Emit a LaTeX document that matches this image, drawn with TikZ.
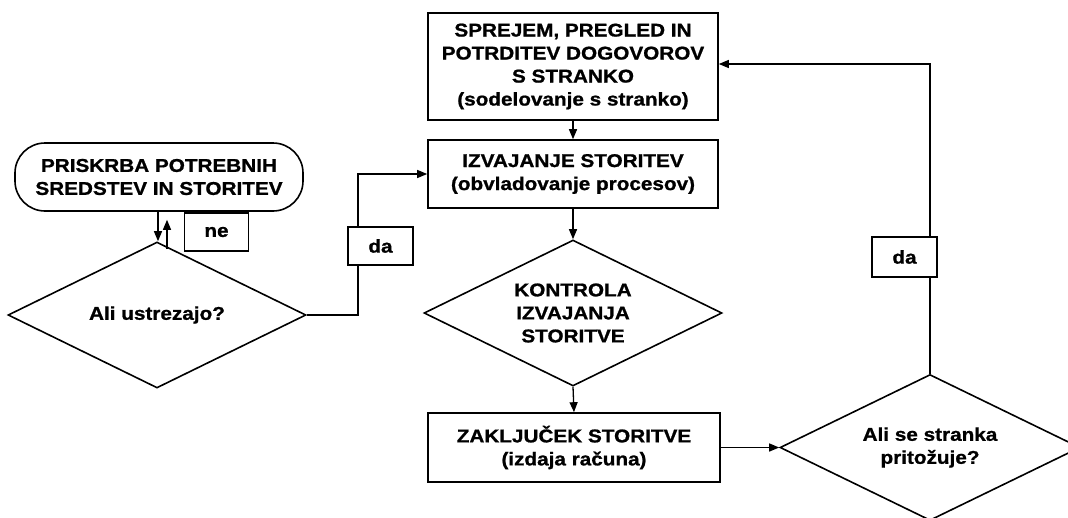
\documentclass[tikz,border=0pt]{standalone}
\usepackage{fontspec}
\setmainfont{Liberation Sans}[FakeStretch=1.12]
\newfontfamily\heavyfont{Liberation Sans}[FakeStretch=1.12, FakeBold=1.0]
\usetikzlibrary{shapes.geometric,arrows.meta,calc}
\begin{document}
\begin{tikzpicture}[x=1pt,y=-1pt,
  every node/.style={font=\fontsize{18.5}{23}\selectfont\heavyfont\bfseries, align=center, inner sep=0pt},
  procbox/.style={draw, line width=1.6pt, fill=white, minimum width=#1},
  decision/.style={draw, line width=1.6pt, diamond, minimum width=298pt, minimum height=146pt, fill=white},
  dtext/.style={},
  lblbox/.style={draw, line width=1.6pt, fill=white, minimum width=64pt, minimum height=38pt},
  conn/.style={line width=1.3pt},
  arr/.style={conn, -{Triangle[length=10pt,width=8pt]}}]
\useasboundingbox (0,0) rectangle (1068,517);
\clip (0,0) rectangle (1068,517);
\fill[white] (0,0) rectangle (1068,517);

% nodes
\node[procbox=290pt, minimum height=107pt] (spr) at (573,66.5) {SPREJEM, PREGLED IN\\POTRDITEV DOGOVOROV\\S STRANKO\\(sodelovanje s stranko)};
\node[procbox=290pt, minimum height=68pt] (izv) at (573,174) {IZVAJANJE STORITEV\\(obvladovanje procesov)};
\node[draw, line width=1.6pt, fill=white, rounded corners=30pt, minimum width=288pt, minimum height=68pt] (pri) at (159,177) {PRISKRBA POTREBNIH\\SREDSTEV IN STORITEV};
\node[decision] (d1) at (157,315) {};
\node[dtext] (t1) at (d1) {Ali ustrezajo?};
\node[decision] (d2) at (573,313) {};
\node[dtext] (t2) at (d2) {KONTROLA\\IZVAJANJA\\STORITVE};
\node[procbox=292pt, minimum height=69pt] (zak) at (574,447.5) {ZAKLJUČEK STORITVE\\(izdaja računa)};
\node[decision, minimum width=300pt] (d3) at (930,447.5) {};
\node[dtext] (t3) at (d3) {Ali se stranka\\pritožuje?};

% connectors
\draw[arr] (spr.south) -- (izv.north);
\draw[arr] (izv.south) -- (d2.north);
\draw[arr] (d2.south) -- (zak.north);
\draw[arr] (zak.east) -- (d3.west);
\draw[arr] ([xshift=-1pt]pri.south) -- ([xshift=-1pt]pri.south |- d1.north);
\draw[arr] ([xshift=10pt,yshift=-8pt]d1.north) -- ([xshift=10pt,yshift=-8pt]d1.north |- pri.south);
\coordinate (k1) at (358,315);
\draw[arr] (d1.east) -- (k1) |- (izv.west);
\coordinate (k2) at (930,64);
\draw[arr] (d3.north) -- (k2) -- (k2 -| spr.east);

% labels
\node[lblbox] (ne) at (216.5,232) {ne};
\node[lblbox, minimum width=65pt] (da1) at (380.5,246) {da};
\node[lblbox, minimum width=65pt, minimum height=40pt] (da2) at (904.5,257) {da};
\end{tikzpicture}
\end{document}
